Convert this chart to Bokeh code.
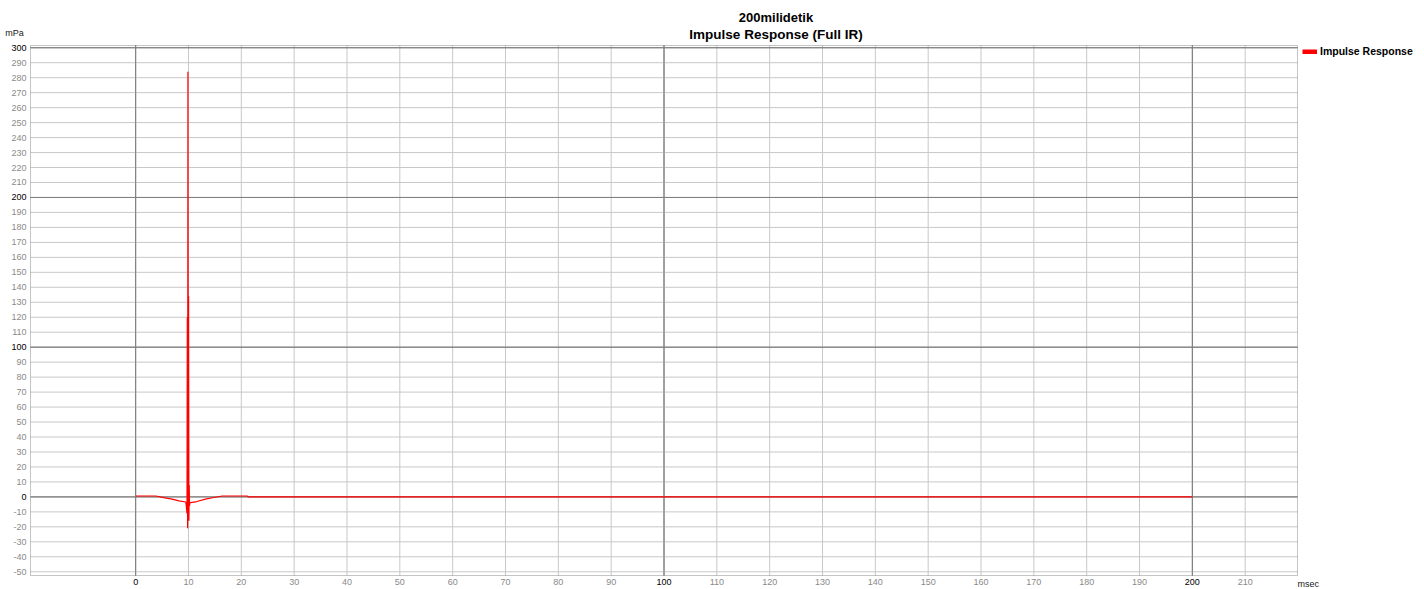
from bokeh.plotting import figure
from bokeh.models import (ColumnDataSource, Range1d, BoxAnnotation, Legend, LegendItem)
from bokeh.core.properties import value
from bokeh.embed import file_html
from bokeh.resources import INLINE

# ---------------- data ----------------
time_ms = [0.0, 3.8, 5.3, 6.9, 8.2, 9.5, 9.72, 9.78, 9.84, 9.90, 9.96, 10.02, 10.08,
           10.14, 10.20, 10.26, 10.4, 11.6, 13.2, 14.8, 16.4, 21.1, 21.4, 200.0]
pressure_mpa = [0.6, 0.6, -0.5, -1.5, -2.7, -3.4, -11.0, 120.0, -21.0, 284.0, -15.0, 134.0,
                -16.0, 8.0, -6.0, -3.8, -3.8, -3.1, -1.5, -0.4, 0.6, 0.6, 0.0, 0.0]

x_ticks = list(range(0, 220, 10))
x_tick_labels = [str(v) for v in x_ticks]
y_ticks = list(range(-50, 310, 10))
y_tick_labels = [str(v) for v in y_ticks]

title_top = "200milidetik"
title_sub = "Impulse Response (Full IR)"
series_name = "Impulse Response"
x_unit = "msec"
y_unit = "mPa"

# ---------------- layout ----------------
X_START, X_END = -19.9, 219.9          # visible plot box (data units)
Y_START, Y_END = -52.5, 301.5
W, H = 1424, 589
FL, FR, FT, FB = 30, 1297, 45, 575     # plot box edges in canvas px
PPX = (FR - FL) / (X_END - X_START)    # px per data unit
PPY = (FB - FT) / (Y_END - Y_START)
FONT = "Liberation Sans"
GRAY = "#8a8a8a"
MINOR_C, MAJOR_C = "#c8c8c8", "#808080"


def dx(px):
    return px / PPX


def dy(px):
    return px / PPY


p = figure(width=W, height=H, output_backend="svg", toolbar_location=None,
           x_range=Range1d(X_START - dx(FL), X_END + dx(W - FR)),
           y_range=Range1d(Y_START - dy(H - FB), Y_END + dy(FT)),
           x_axis_type=None, y_axis_type=None, title=None, min_border=0)
p.outline_line_color = None
p.background_fill_color = "white"
p.border_fill_color = "white"

# ---- grid lines (built from the tick lists, limited to the plot box) ----
gx = [t for t in x_ticks]
p.segment(x0=gx, x1=gx, y0=[Y_START] * len(gx), y1=[Y_END] * len(gx),
          line_color=[MAJOR_C if t % 100 == 0 else MINOR_C for t in gx], line_width=1)
p.segment(x0=[X_START] * len(y_ticks), x1=[X_END] * len(y_ticks), y0=y_ticks, y1=y_ticks,
          line_color=[MAJOR_C if t % 100 == 0 else MINOR_C for t in y_ticks], line_width=1)
# redraw major lines on top of the minor ones
mx = [t for t in x_ticks if t % 100 == 0]
my = [t for t in y_ticks if t % 100 == 0]
p.segment(x0=mx, x1=mx, y0=[Y_START] * len(mx), y1=[Y_END] * len(mx),
          line_color=MAJOR_C, line_width=1)
p.segment(x0=[X_START] * len(my), x1=[X_END] * len(my), y0=my, y1=my,
          line_color=MAJOR_C, line_width=1)

# ---- the impulse response ----
p.line(time_ms, pressure_mpa, line_color="#ff0000", line_width=1.2)

# ---- plot box border ----
p.add_layout(BoxAnnotation(left=X_START, right=X_END, bottom=Y_START, top=Y_END,
                           fill_color=None, line_color="#404040", line_width=1))

# ---- tick labels ----
ysrc = ColumnDataSource(dict(x=[X_START - dx(4)] * len(y_ticks), y=y_ticks,
                             text=y_tick_labels,
                             color=["black" if v % 100 == 0 else GRAY for v in y_ticks]))
p.text(x="x", y="y", text="text", source=ysrc, text_color="color",
       text_align="right", text_baseline="middle",
       text_font=value(FONT), text_font_size="9px")
xsrc = ColumnDataSource(dict(x=x_ticks, y=[Y_START - dy(3)] * len(x_ticks),
                             text=x_tick_labels,
                             color=["black" if v % 100 == 0 else GRAY for v in x_ticks]))
p.text(x="x", y="y", text="text", source=xsrc, text_color="color",
       text_align="center", text_baseline="top",
       text_font=value(FONT), text_font_size="9px")

# ---- unit labels ----
p.text(x=[X_START - dx(16)], y=[Y_END + dy(13)], text=[y_unit], text_color="#202020",
       text_align="center", text_baseline="middle",
       text_font=value(FONT), text_font_size="9px")
p.text(x=[X_END], y=[Y_START - dy(3)], text=[x_unit], text_color="#202020",
       text_align="left", text_baseline="top",
       text_font=value(FONT), text_font_size="9px")

# ---- titles ----
TITLE_CX = X_START + dx(775.5 - FL)
p.text(x=[TITLE_CX], y=[Y_END + dy(45 - 17)], text=[title_top], text_color="black",
       text_align="center", text_baseline="middle", text_font=value(FONT),
       text_font_style="bold", text_font_size="13px")
p.text(x=[TITLE_CX], y=[Y_END + dy(45 - 34)], text=[title_sub], text_color="black",
       text_align="center", text_baseline="middle", text_font=value(FONT),
       text_font_style="bold", text_font_size="13.5px")

# ---- legend ----
proxy = p.line(x=[float("nan")], y=[float("nan")], line_color="#ff0000", line_width=5)
legend = Legend(items=[LegendItem(label=series_name, renderers=[proxy])],
                location=(1302, H - 43 - 14), margin=0, padding=0,
                border_line_alpha=0, background_fill_alpha=0,
                glyph_width=15, glyph_height=5, label_height=10, label_standoff=3,
                label_text_font=FONT, label_text_font_style="bold",
                label_text_font_size="10.5px", label_text_color="black")
p.add_layout(legend, "center")

open("out.html", "w").write(file_html(p, INLINE))
